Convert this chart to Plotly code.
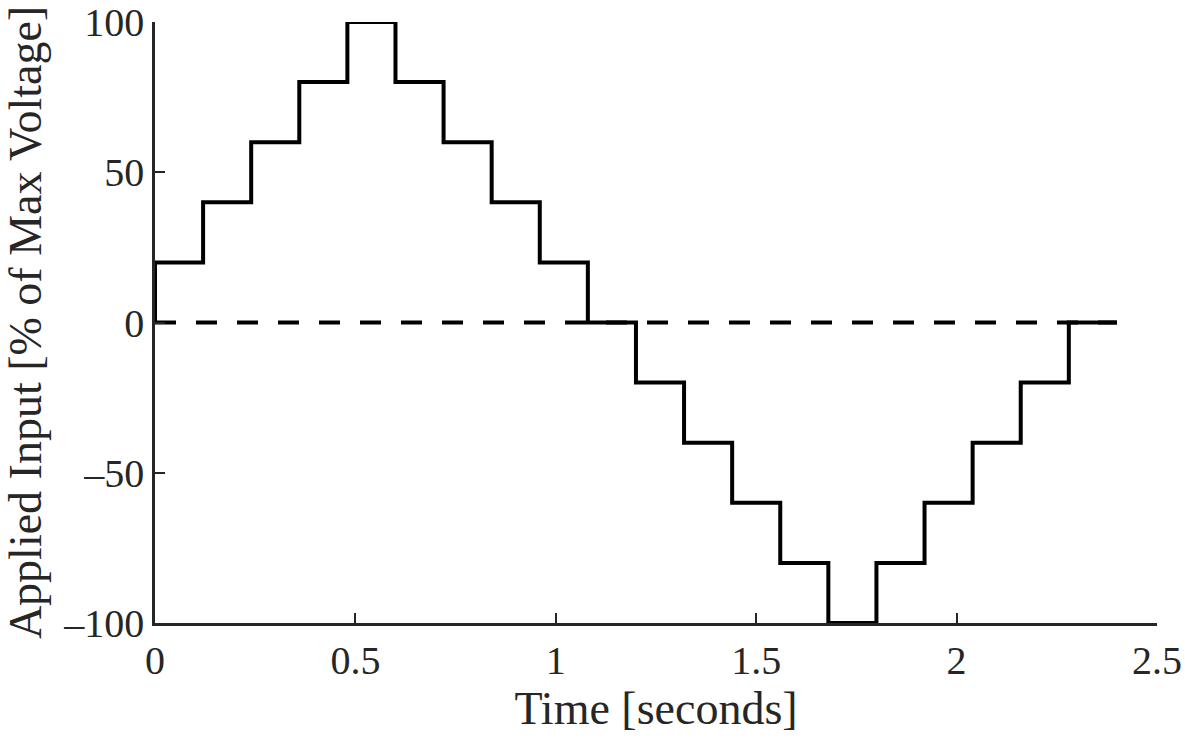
import plotly.graph_objects as go

# Data
step_times = [0, 0, 0.12, 0.24, 0.36, 0.48, 0.60, 0.72, 0.84, 0.96, 1.08,
              1.20, 1.32, 1.44, 1.56, 1.68, 1.80, 1.92, 2.04, 2.16, 2.28, 2.40]
step_values = [0, 20, 40, 60, 80, 100, 80, 60, 40, 20, 0,
               -20, -40, -60, -80, -100, -80, -60, -40, -20, 0, 0]
zero_times = [0, 2.4]
zero_values = [0, 0]
x_ticks = [0, 0.5, 1, 1.5, 2, 2.5]
x_labels = ["0", "0.5", "1", "1.5", "2", "2.5"]
y_ticks = [-100, -50, 0, 50, 100]
y_labels = ["\u2013100", "\u201350", "0", "50", "100"]

FONT = "Liberation Serif"
AX = "rgb(38,38,38)"

fig = go.Figure()
fig.add_trace(go.Scatter(x=zero_times, y=zero_values, mode="lines",
                         line=dict(color="black", width=4, dash="21px,20px"),
                         cliponaxis=False, showlegend=False))
fig.add_trace(go.Scatter(x=step_times, y=step_values, mode="lines",
                         line=dict(color="black", width=4, shape="hv"),
                         cliponaxis=False, showlegend=False))

axis_common = dict(showline=True, linecolor=AX, linewidth=2.5,
                   ticks="inside", ticklen=10, tickwidth=2, tickcolor=AX,
                   showgrid=False, zeroline=False, automargin=False,
                   tickfont=dict(family=FONT, size=40, color=AX))

fig.update_xaxes(range=[0, 2.5], tickvals=x_ticks, ticktext=x_labels,
                 title=dict(text="Time [seconds]", font=dict(family=FONT, size=46, color=AX), standoff=2),
                 **axis_common)
fig.update_yaxes(range=[-100, 100], tickvals=y_ticks, ticktext=y_labels,
                 title=dict(text="Applied Input [% of Max Voltage]", font=dict(family=FONT, size=46, color=AX), standoff=10),
                 **axis_common)

fig.update_layout(width=1185, height=740,
                  margin=dict(l=155, r=28, t=22, b=117),
                  paper_bgcolor="white", plot_bgcolor="white",
                  font=dict(family=FONT, color=AX))

fig.write_html("out.html", config={"displayModeBar": False},
               post_script="document.body.style.margin='0';")
